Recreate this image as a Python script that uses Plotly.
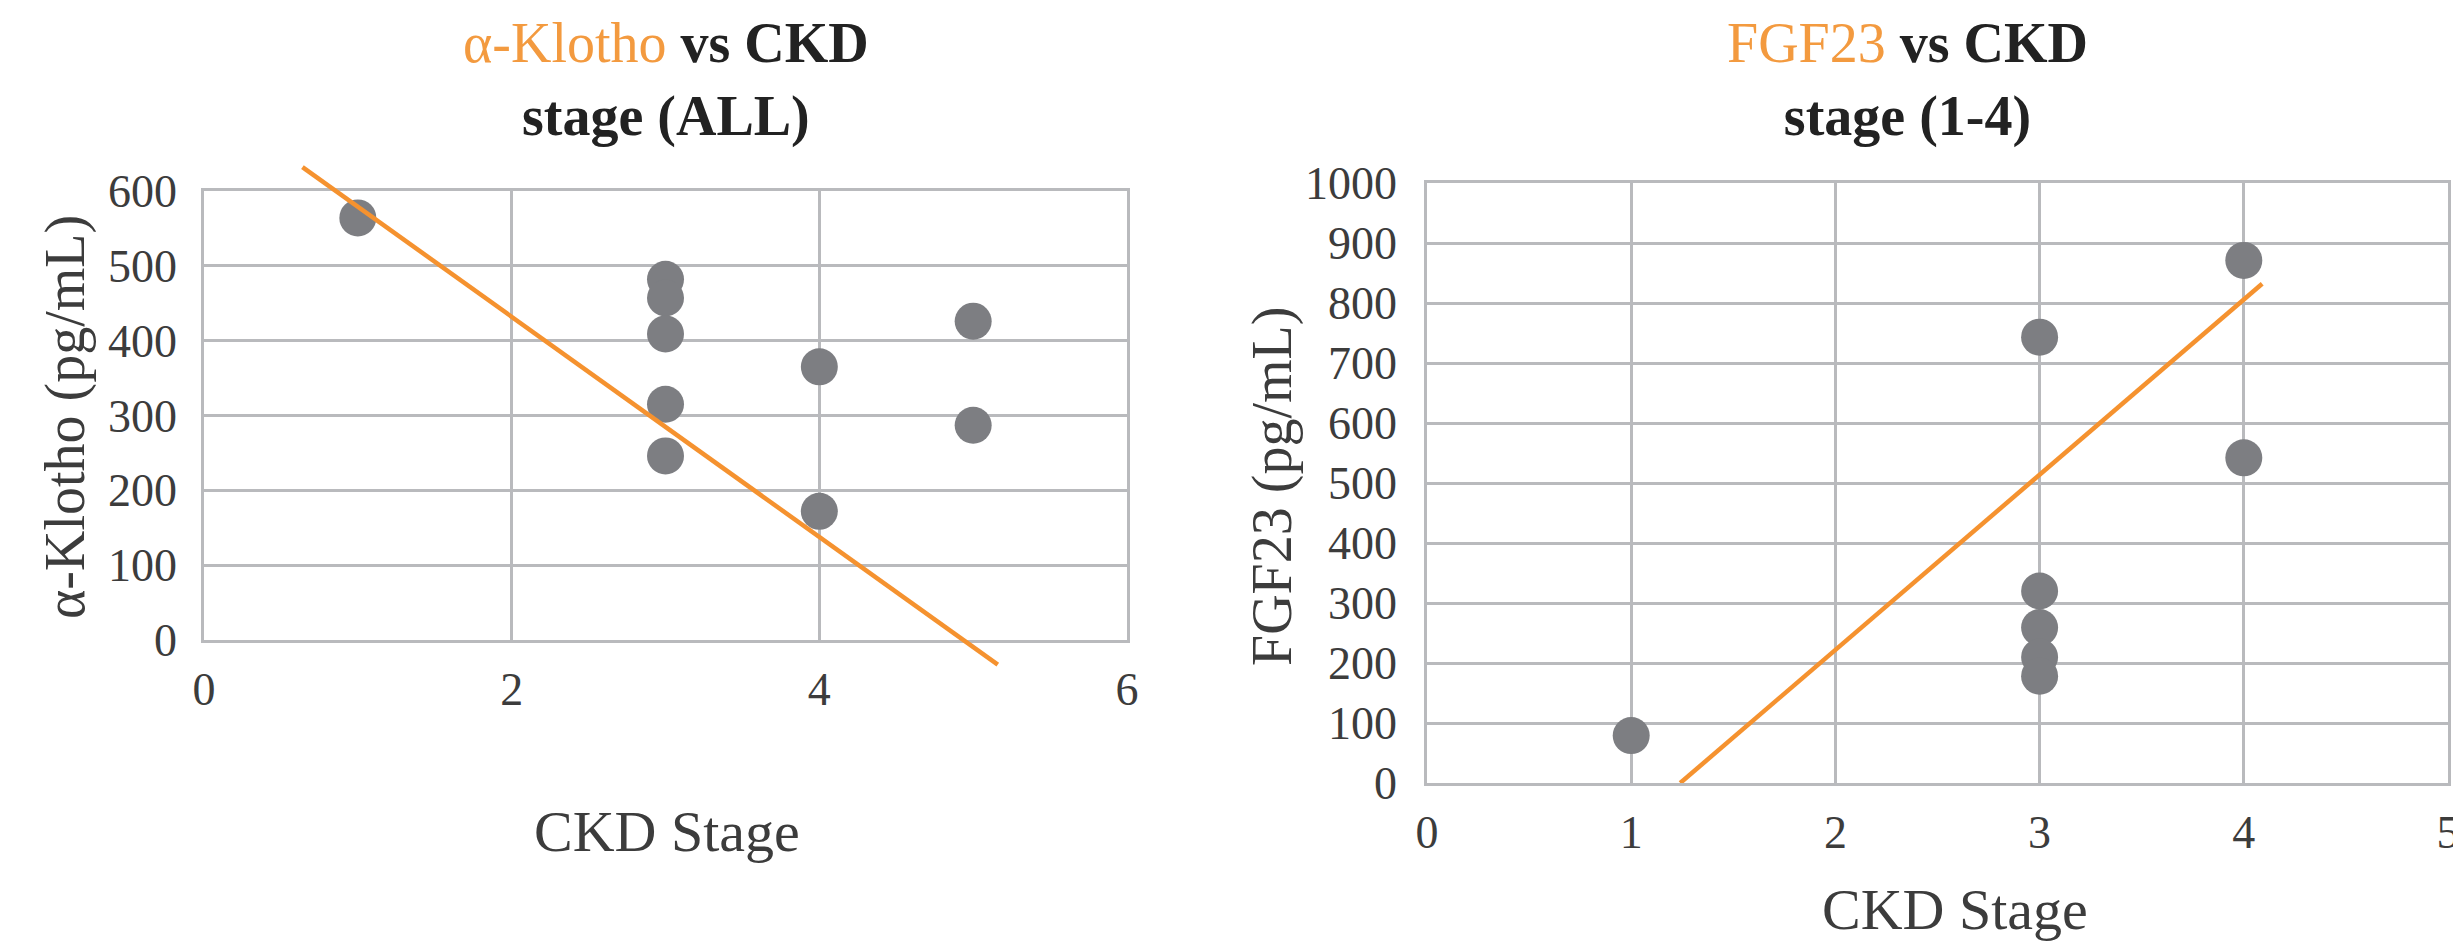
import plotly.graph_objects as go

# ---------------- data ----------------
klotho_stage = [1, 3, 3, 3, 3, 3, 4, 4, 5, 5]
klotho_value = [564, 482, 457, 409, 315, 246, 365, 172, 426, 287]
klotho_trend_x = [0.64, 5.16]
klotho_trend_y = [632, -33]

fgf_stage = [1, 3, 3, 3, 3, 3, 4, 4]
fgf_value = [79, 743, 320, 259, 210, 178, 871, 542]
fgf_trend_x = [1.24, 4.09]
fgf_trend_y = [0, 832]

klotho_xticks = [0, 2, 4, 6]
klotho_yticks = [0, 100, 200, 300, 400, 500, 600]
fgf_xticks = [0, 1, 2, 3, 4, 5]
fgf_yticks = [0, 100, 200, 300, 400, 500, 600, 700, 800, 900, 1000]

# ---------------- style ----------------
W, H = 2461, 941
OFF = 8  # page body margin
FONT = "Liberation Serif"
DOT = "#7d7e82"
ORANGE = "#F5922F"
GRID = "#b9babd"
TICKC = "#3c3c3c"

def px_x(p):
    return (p - OFF) / W

def px_y(p):
    return 1 - (p - OFF) / H

# plot boxes in screen pixels
L_box = dict(x0=204, x1=1127, y0=191, y1=640)   # y0 top, y1 bottom
R_box = dict(x0=1427, x1=2448, y0=183, y1=783)

fig = go.Figure()

fig.add_trace(go.Scatter(x=klotho_stage, y=klotho_value, mode="markers",
                         marker=dict(size=37, color=DOT), xaxis="x", yaxis="y",
                         showlegend=False, hoverinfo="skip"))
fig.add_trace(go.Scatter(x=fgf_stage, y=fgf_value, mode="markers",
                         marker=dict(size=37, color=DOT), xaxis="x2", yaxis="y2",
                         showlegend=False, hoverinfo="skip"))

fig.add_trace(go.Scatter(x=klotho_trend_x, y=klotho_trend_y, mode="lines",
                         line=dict(color=ORANGE, width=4.5), xaxis="x3", yaxis="y3",
                         showlegend=False, hoverinfo="skip"))
fig.add_trace(go.Scatter(x=fgf_trend_x, y=fgf_trend_y, mode="lines",
                         line=dict(color=ORANGE, width=4.5), xaxis="x2", yaxis="y2",
                         showlegend=False, hoverinfo="skip"))

tickfont = dict(family=FONT, size=46, color=TICKC)

def axis_common():
    return dict(showgrid=True, gridcolor=GRID, gridwidth=2.5, zeroline=False,
                showline=True, linecolor=GRID, linewidth=2.5, mirror=True,
                ticks="", tickfont=tickfont, automargin=False)

xr_l = [0, 6]
yr_l = [0, 600]
fig.update_layout(
    xaxis=dict(domain=[px_x(L_box["x0"]), px_x(L_box["x1"])], range=xr_l,
               tickvals=klotho_xticks, ticklabelstandoff=7, anchor="y", **axis_common()),
    yaxis=dict(domain=[px_y(L_box["y1"]), px_y(L_box["y0"])], range=yr_l,
               tickvals=klotho_yticks, ticklabelstandoff=15, anchor="x", **axis_common()),
    xaxis2=dict(domain=[px_x(R_box["x0"]), px_x(R_box["x1"])], range=[0, 5],
                tickvals=fgf_xticks, ticklabelstandoff=7, anchor="y2", **axis_common()),
    yaxis2=dict(domain=[px_y(R_box["y1"]), px_y(R_box["y0"])], range=[0, 1000],
                tickvals=fgf_yticks, ticklabelstandoff=18, anchor="x2", **axis_common()),
)

# overlay axes extending the left box by `ext` pixels each side, same scale
ext = 70
ppx = (L_box["x1"] - L_box["x0"]) / (xr_l[1] - xr_l[0])
ppy = (L_box["y1"] - L_box["y0"]) / (yr_l[1] - yr_l[0])
fig.update_layout(
    xaxis3=dict(domain=[px_x(L_box["x0"] - ext), px_x(L_box["x1"] + ext)],
                range=[xr_l[0] - ext / ppx, xr_l[1] + ext / ppx],
                visible=False, anchor="y3", automargin=False),
    yaxis3=dict(domain=[px_y(L_box["y1"] + ext), px_y(L_box["y0"] - ext)],
                range=[yr_l[0] - ext / ppy, yr_l[1] + ext / ppy],
                visible=False, anchor="x3", automargin=False),
)

ann = []
title_font = dict(family=FONT, size=56, color="#222222")
ann.append(dict(text="<span style='color:#F39A3F'>α-Klotho</span> <b>vs CKD</b><br><b>stage (ALL)</b>",
                x=px_x(666), y=px_y(80), xref="paper", yref="paper",
                showarrow=False, font=title_font, xanchor="center", yanchor="middle"))
ann.append(dict(text="<span style='color:#F39A3F'>FGF23</span> <b>vs CKD</b><br><b>stage (1-4)</b>",
                x=px_x(1908), y=px_y(80), xref="paper", yref="paper",
                showarrow=False, font=title_font, xanchor="center", yanchor="middle"))

axt_font = dict(family=FONT, size=58, color="#3c3c3c")
ann.append(dict(text="CKD Stage", x=px_x(667), y=px_y(831), xref="paper", yref="paper",
                showarrow=False, font=axt_font, xanchor="center", yanchor="middle"))
ann.append(dict(text="CKD Stage", x=px_x(1955), y=px_y(909), xref="paper", yref="paper",
                showarrow=False, font=axt_font, xanchor="center", yanchor="middle"))
ytitle_font = dict(family=FONT, size=56, color="#3c3c3c")
ann.append(dict(text="α-Klotho (pg/mL)", x=px_x(65), y=px_y(417), xref="paper", yref="paper",
                showarrow=False, font=ytitle_font, textangle=-90, xanchor="center", yanchor="middle"))
ann.append(dict(text="FGF23 (pg/mL)", x=px_x(1272), y=px_y(487), xref="paper", yref="paper",
                showarrow=False, font=ytitle_font, textangle=-90, xanchor="center", yanchor="middle"))

fig.update_layout(
    width=W, height=H,
    margin=dict(l=0, r=0, t=0, b=0, pad=0),
    paper_bgcolor="white", plot_bgcolor="rgba(0,0,0,0)",
    annotations=ann, showlegend=False,
)

fig.write_html("out.html")
